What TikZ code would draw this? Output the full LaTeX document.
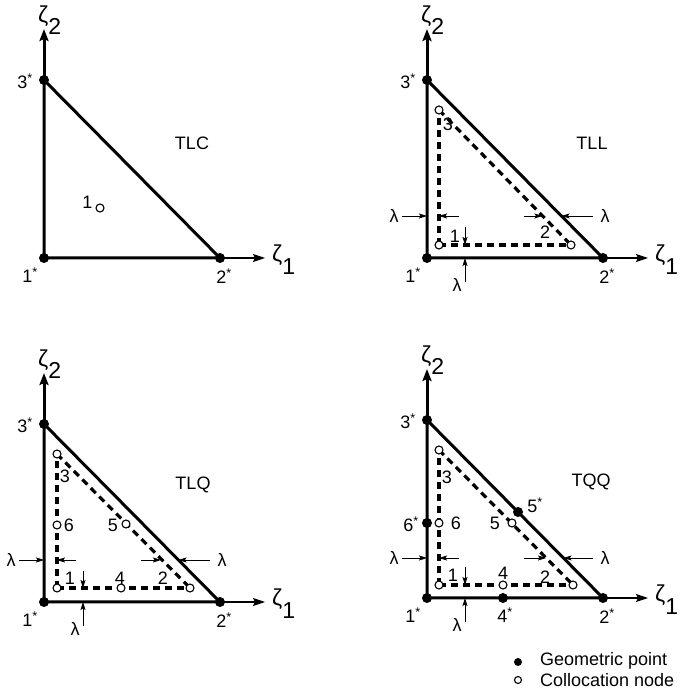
\documentclass[tikz,border=0pt]{standalone}
\usepackage{fontspec}
\setmainfont{Liberation Sans}
\usetikzlibrary{arrows.meta}

% geometric point label with star
\newcommand{\gs}[1]{#1\textsuperscript{*}}
% axis label zeta with lowered index
\newcommand{\zl}[2]{ζ\raisebox{#2}{#1}}

% triangle, axes and corner points (local units, y up)
\newcommand{\triframe}{%
	\coordinate (n1) at (0,0);
	\coordinate (n2) at (176,0);
	\coordinate (n3) at (0,178);
	\coordinate (xtip) at (221,0);
	\coordinate (ytip) at (0,229);
	\draw[thinaxis] (n2) -- (xtip);
	\draw[thickaxis] (n3) -- (ytip);
	\draw[edge] (n1) -- (n2) -- (n3) -- cycle;
	\node[gpt] (g1) at (n1) {};
	\node[gpt] (g2) at (n2) {};
	\node[gpt] (g3) at (n3) {};
	\node[lbl, anchor=base] (l1) at (-14,-25) {\gs{1}};
	\node[lbl, anchor=base] (l2) at (180,-26) {\gs{2}};
	\node[lbl, anchor=base] (l3) at (-19,169) {\gs{3}};
	\node[zlbl, anchor=base west] (zeta1) at (228,-4) {\zl{1}{-13pt}};
	\node[zlbl, anchor=base west] (zeta2) at (-6,235) {\zl{2}{-12pt}};
}

% lambda offsets: #1 level, #2 dashed diag x, #3 solid diag x, #4 vertical x, #5 inner x, #6 inner y
\newcommand{\lamdims}[6]{%
	\coordinate (la) at (-25,#1); \coordinate (lb) at (0,#1);
	\coordinate (lc) at (32,#1);  \coordinate (ld) at (#5,#1);
	\coordinate (le) at (97,#1);  \coordinate (lf) at (#2,#1);
	\coordinate (lg) at (166,#1); \coordinate (lh) at (#3,#1);
	\coordinate (li) at (#4,31);  \coordinate (lj) at (#4,#6);
	\coordinate (lk) at (#4,-24); \coordinate (ll) at (#4,0);
	\draw[dim] (la) -- (lb);
	\draw[dim] (lc) -- (ld);
	\draw[dim] (le) -- (lf);
	\draw[dim] (lg) -- (lh);
	\draw[dim] (li) -- (lj);
	\draw[dim] (lk) -- (ll);
	\node[lbl] (lamL) at (-33,#1) {λ};
	\node[lbl] (lamR) at (178,#1) {λ};
	\node[lbl] (lamB) at ([xshift=-8pt]#4,-27) {λ};
}

\begin{document}
\begin{tikzpicture}[x=1pt, y=1pt,
	lbl/.style={inner sep=0pt, font=\fontsize{18}{21}\selectfont},
	zlbl/.style={inner sep=0pt, font=\fontsize{23}{26}\selectfont},
	edge/.style={line width=3pt, line join=round},
	thickaxis/.style={line width=3pt, -{Stealth[length=12pt, width=9pt, inset=2pt]}},
	thinaxis/.style={line width=1.1pt, -{Stealth[length=12pt, width=8pt, inset=2pt]}},
	colline/.style={line width=3.2pt, dash pattern=on 7pt off 5pt},
	dim/.style={line width=0.9pt, -{Stealth[length=8pt, width=5pt, inset=1.5pt]}},
	gpt/.style={circle, fill, inner sep=0pt, minimum size=10pt},
	cpt/.style={circle, draw, fill=white, line width=1.1pt, inner sep=0pt, minimum size=8pt}]

	\useasboundingbox (0,0) rectangle (681,699);

	% TLC
	\begin{scope}[shift={(44,441)}]
		\triframe
		\node[cpt] (c1) at (56,50) {};
		\node[lbl] (t1) at (43.5,56) {1};
		\node[lbl] (name) at (148,115) {TLC};
	\end{scope}

	% TLL
	\begin{scope}[shift={(427,441)}]
		\triframe
		\coordinate (c1) at (12,13);
		\coordinate (c2) at (144,13);
		\coordinate (c3) at (12,148);
		\draw[colline] (c1) -- (c2);
		\draw[colline] (c1) -- (c3);
		\draw[colline] (c3) -- (c2);
		\lamdims{42}{115.5}{134.5}{38}{12}{13}
		\foreach \k in {1,2,3} \node[cpt] (p\k) at (c\k) {};
		\node[lbl] (t1) at (28,22) {1};
		\node[lbl] (t2) at (118,26) {2};
		\node[lbl] (t3) at (21,134) {3};
		\node[lbl] (name) at (165,115) {TLL};
	\end{scope}

	% TLQ
	\begin{scope}[shift={(44,97)}]
		\triframe
		\coordinate (c1) at (13,14);
		\coordinate (c2) at (146,14);
		\coordinate (c3) at (13,148);
		\coordinate (c4) at (77,14);
		\coordinate (c5) at (82,78);
		\coordinate (c6) at (13,77);
		\draw[colline] (c1) -- (c2);
		\draw[colline] (c1) -- (c3);
		\draw[colline] (c3) -- (c2);
		\lamdims{42}{117}{134.5}{39}{13}{14}
		\foreach \k in {1,...,6} \node[cpt] (p\k) at (c\k) {};
		\node[lbl] (t1) at (26,24) {1};
		\node[lbl] (t2) at (119,24) {2};
		\node[lbl] (t3) at (21,126) {3};
		\node[lbl] (t4) at (76,24) {4};
		\node[lbl] (t5) at (69,77) {5};
		\node[lbl] (t6) at (25,77) {6};
		\node[lbl] (name) at (149,117) {TLQ};
	\end{scope}

	% TQQ
	\begin{scope}[shift={(427,101)}]
		\triframe
		\coordinate (c1) at (12,13);
		\coordinate (c2) at (146,13);
		\coordinate (c3) at (12,148);
		\coordinate (c4) at (76,13);
		\coordinate (c5) at (85,75);
		\coordinate (c6) at (12,75);
		\draw[colline] (c1) -- (c2);
		\draw[colline] (c1) -- (c3);
		\draw[colline] (c3) -- (c2);
		\lamdims{40}{119}{136.5}{38}{12}{13}
		\foreach \k in {1,...,6} \node[cpt] (p\k) at (c\k) {};
		\node[gpt] (g4) at (76,0) {};
		\node[gpt] (g5) at (91,86) {};
		\node[gpt] (g6) at (0,75) {};
		\node[lbl, anchor=base] (l4) at (78,-25) {\gs{4}};
		\node[lbl, anchor=base] (l5) at (108,85) {\gs{5}};
		\node[lbl, anchor=base] (l6) at (-16,66) {\gs{6}};
		\node[lbl] (t1) at (26,23) {1};
		\node[lbl] (t2) at (118,21) {2};
		\node[lbl] (t3) at (20,121) {3};
		\node[lbl] (t4) at (76,25) {4};
		\node[lbl] (t5) at (68,75) {5};
		\node[lbl] (t6) at (29,75) {6};
		\node[lbl] (name) at (164,116) {TQQ};
	\end{scope}

	% legend
	\node[gpt, minimum size=8pt] (keyg) at (518,37) {};
	\node[lbl, anchor=west] (keygt) at (540,38) {Geometric point};
	\node[cpt, minimum size=7pt] (keyc) at (518,19) {};
	\node[lbl, anchor=west] (keyct) at (540,19) {Collocation node};
\end{tikzpicture}
\end{document}
